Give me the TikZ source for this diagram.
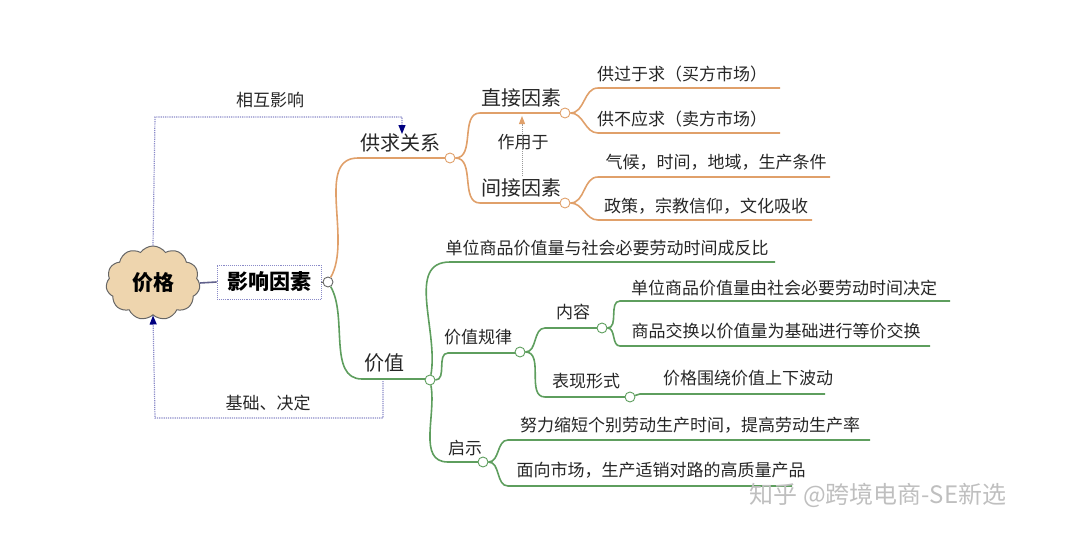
\documentclass[tikz,border=0pt]{standalone}
\usepackage{fontspec}
\setmainfont{Noto Sans CJK SC}
\usetikzlibrary{shapes.symbols,arrows.meta}
\definecolor{org}{HTML}{E0A06A}
\definecolor{grn}{HTML}{5E9E5E}
\definecolor{blu}{HTML}{8A8AC8}
\definecolor{tan}{HTML}{EED5AE}
\begin{document}
\begin{tikzpicture}[x=1pt,y=-1pt,
  dot/.style={circle,draw=#1,fill=white,line width=0.9pt,inner sep=0pt,minimum size=10pt},
  br/.style={draw=#1,line width=1.6pt},
  lbl/.style={inner sep=0pt,font=\fontsize{17}{17}\selectfont,text=black!85},
  big/.style={inner sep=0pt,font=\fontsize{20}{20}\selectfont,text=black!85},
  rel/.style={draw=blu,line width=1.2pt,densely dotted}]
\useasboundingbox (0,0) rectangle (1080,541);
% root
\node[cloud,cloud puffs=11,cloud puff arc=110,aspect=1.3,draw=gray!80!black,fill=tan,line width=1pt,minimum width=94pt,minimum height=74pt,font=\fontsize{21}{21}\selectfont\bfseries] (root) at (153,283) {价格};
\node[draw=blu,densely dotted,line width=0.9pt,minimum width=104pt,minimum height=34pt,inner sep=0pt,font=\fontsize{21}{21}\selectfont\bfseries] (yx) at (269,282) {影响因素};
\draw[draw=blu!70!black,line width=1.6pt] (root.east) -- (yx.west);
\node[dot=black!60] (c0) at (328,282) {};
\draw[line width=1pt,black!60] (yx.east) -- (c0);
% supply-demand
\coordinate (gq1) at (358,158); \coordinate (gq2) at (446,158);
\node[big] (gq) at (400,143) {供求关系};
\draw[br=org] (c0) to[out=60,in=180,looseness=0.9] (gq1) -- (gq2);
\node[dot=org] (c1) at (450,158) {};
\node[big] (zj) at (521,98) {直接因素};
\node[big] (jj) at (521,188) {间接因素};
\coordinate (zj1) at (480,113); \coordinate (zj2) at (560,113);
\coordinate (jj1) at (480,203); \coordinate (jj2) at (560,203);
\draw[br=org] (c1) to[out=0,in=180] (zj1) -- (zj2);
\draw[br=org] (c1) to[out=0,in=180] (jj1) -- (jj2);
\node[dot=org] (c2) at (565,113) {};
\node[dot=org] (c3) at (565,203) {};
\node[lbl] (zy) at (523,142) {作用于};
\coordinate (zya) at (522,176); \coordinate (zyb) at (522,116);
\draw[black!40,densely dotted,line width=1pt,-{Triangle[length=8pt,width=6pt,fill=org,color=org]}] (zya) -- (zyb);
\foreach \t/\y/\x/\e/\n in {供过于求（买方市场）/88/682/780/a1,供不应求（卖方市场）/133/682/780/a2}{
  \node[lbl] (\n) at (\x,\y-14) {\t};
  \draw[br=org] (c2) to[out=0,in=180] (598,\y) -- (\e,\y);}
\node[lbl] (b1) at (716,162) {气候，时间，地域，生产条件};
\node[lbl] (b2) at (706,206) {政策，宗教信仰，文化吸收};
\draw[br=org] (c3) to[out=0,in=180] (598,177) -- (830,177);
\draw[br=org] (c3) to[out=0,in=180] (598,220) -- (812,220);
% value
\node[big] (jz) at (384,363) {价值};
\coordinate (jz1) at (362,379); \coordinate (jz2) at (426,379);
\draw[br=grn] (c0) to[out=-60,in=180,looseness=0.9] (jz1) -- (jz2);
\node[dot=grn] (c4) at (430,380) {};
\node[lbl] (fb) at (607,248) {单位商品价值量与社会必要劳动时间成反比};
\draw[br=grn] (c4) to[out=80,in=180] (450,262) -- (775,262);
\node[lbl] (gl) at (478,337) {价值规律};
\draw[br=grn] (c4) to[out=0,in=180] (448,353) -- (515,353);
\node[dot=grn] (c5) at (520,352) {};
\node[lbl] (qs) at (465,448) {启示};
\draw[br=grn] (c4) to[out=-80,in=180] (448,462) -- (478,462);
\node[dot=grn] (c6) at (483,462) {};
\node[lbl] (nr) at (573,312) {内容};
\draw[br=grn] (c5) to[out=0,in=180] (545,328) -- (597,328);
\node[dot=grn] (c7) at (602,328) {};
\node[lbl] (bx) at (586,381) {表现形式};
\draw[br=grn] (c5) to[out=0,in=180] (545,397) -- (625,397);
\node[dot=grn] (c8) at (630,397) {};
\node[lbl] (d1) at (784,288) {单位商品价值量由社会必要劳动时间决定};
\draw[br=grn] (c7) to[out=0,in=180] (620,301) -- (950,301);
\node[lbl] (d2) at (776,331) {商品交换以价值量为基础进行等价交换};
\draw[br=grn] (c7) to[out=0,in=180] (620,346) -- (930,346);
\node[lbl] (d3) at (748,378) {价格围绕价值上下波动};
\draw[br=grn] (c8) -- (640,394) -- (825,394);
\node[lbl] (e1) at (690,425) {努力缩短个别劳动生产时间，提高劳动生产率};
\draw[br=grn] (c6) to[out=0,in=180] (508,440) -- (870,440);
\node[lbl] (e2) at (661,470) {面向市场，生产适销对路的高质量产品};
\draw[br=grn] (c6) to[out=0,in=180] (508,486) -- (792,486);
% relations
\coordinate (r1) at (155,117); \coordinate (r2) at (402,117); \coordinate (r3) at (402,134);
\draw[rel,-{Triangle[length=9pt,width=7pt,fill=blue!50!black,color=blue!50!black]}] (root.north) -- (r1) -- (r2) -- (r3);
\node[lbl] (hx) at (270,100) {相互影响};
\coordinate (s1) at (383,381); \coordinate (s2) at (383,418); \coordinate (s3) at (155,418);
\draw[rel,-{Triangle[length=9pt,width=7pt,fill=blue!50!black,color=blue!50!black]}] (s1) -- (s2) -- (s3) -- (root.south);
\node[lbl] (jc) at (268,403) {基础、决定};
\node[inner sep=0pt,font=\fontsize{24}{24}\selectfont,text=black!25] (wm) at (878,495) {知乎 @跨境电商-SE新选};
\end{tikzpicture}
\end{document}
